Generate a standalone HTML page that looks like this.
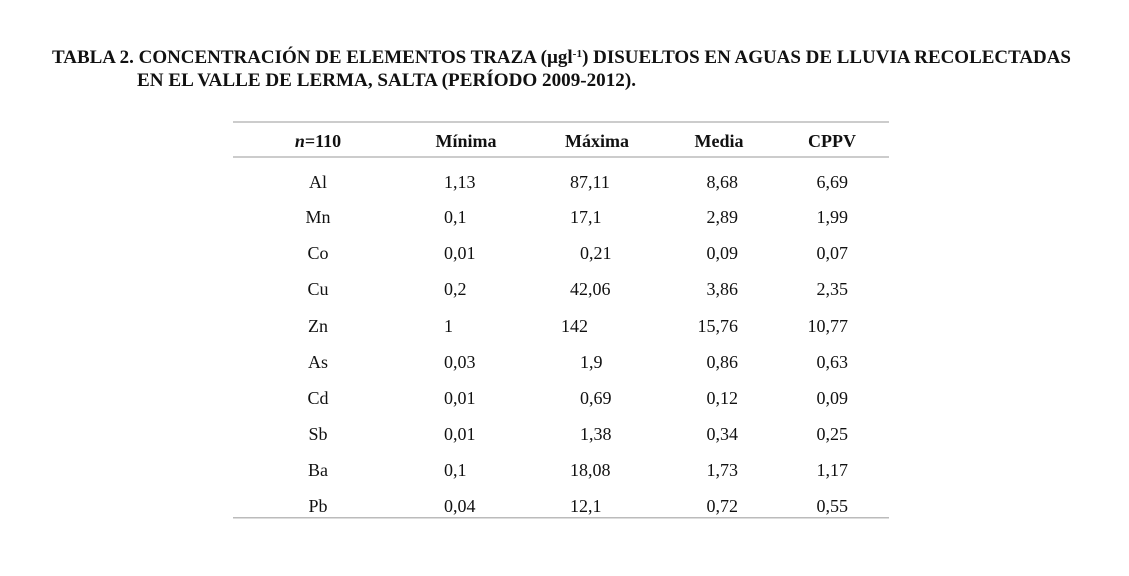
<!DOCTYPE html>
<html><head><meta charset="utf-8"><style>
html,body{margin:0;padding:0;background:#fff;}
svg{display:block;}
text{font-family:"Liberation Serif",serif;fill:#111;}
</style></head><body>
<svg width="1129" height="576" viewBox="0 0 1129 576">
<text x="52" y="63" font-size="18.5" font-weight="bold" textLength="1019" lengthAdjust="spacingAndGlyphs">TABLA 2. CONCENTRACIÓN DE ELEMENTOS TRAZA (µgl<tspan font-size="11" dy="-6">-1</tspan><tspan dy="6">) DISUELTOS EN AGUAS DE LLUVIA RECOLECTADAS</tspan></text>
<text x="137" y="86" font-size="18.5" font-weight="bold" textLength="499" lengthAdjust="spacingAndGlyphs">EN EL VALLE DE LERMA, SALTA (PERÍODO 2009-2012).</text>
<rect x="233" y="121" width="656" height="2" fill="#ccc"/>
<rect x="233" y="156" width="656" height="2" fill="#ccc"/>
<rect x="233" y="517" width="656" height="1.5" fill="#bbb"/>
<g font-size="18" font-weight="bold">
<text x="318" y="147" text-anchor="middle"><tspan font-style="italic">n</tspan>=110</text>
<text x="466" y="147" text-anchor="middle">Mínima</text>
<text x="597" y="147" text-anchor="middle">Máxima</text>
<text x="719" y="147" text-anchor="middle">Media</text>
<text x="832" y="147" text-anchor="middle">CPPV</text>
</g>
<g font-size="18">
<text x="318" y="188" text-anchor="middle">Al</text><text x="444" y="188">1,13</text><text x="570" y="188">87,11</text><text x="738" y="188" text-anchor="end">8,68</text><text x="848" y="188" text-anchor="end">6,69</text>
<text x="318" y="223" text-anchor="middle">Mn</text><text x="444" y="223">0,1</text><text x="570" y="223">17,1</text><text x="738" y="223" text-anchor="end">2,89</text><text x="848" y="223" text-anchor="end">1,99</text>
<text x="318" y="259" text-anchor="middle">Co</text><text x="444" y="259">0,01</text><text x="580" y="259">0,21</text><text x="738" y="259" text-anchor="end">0,09</text><text x="848" y="259" text-anchor="end">0,07</text>
<text x="318" y="295" text-anchor="middle">Cu</text><text x="444" y="295">0,2</text><text x="570" y="295">42,06</text><text x="738" y="295" text-anchor="end">3,86</text><text x="848" y="295" text-anchor="end">2,35</text>
<text x="318" y="332" text-anchor="middle">Zn</text><text x="444" y="332">1</text><text x="561" y="332">142</text><text x="738" y="332" text-anchor="end">15,76</text><text x="848" y="332" text-anchor="end">10,77</text>
<text x="318" y="368" text-anchor="middle">As</text><text x="444" y="368">0,03</text><text x="580" y="368">1,9</text><text x="738" y="368" text-anchor="end">0,86</text><text x="848" y="368" text-anchor="end">0,63</text>
<text x="318" y="404" text-anchor="middle">Cd</text><text x="444" y="404">0,01</text><text x="580" y="404">0,69</text><text x="738" y="404" text-anchor="end">0,12</text><text x="848" y="404" text-anchor="end">0,09</text>
<text x="318" y="440" text-anchor="middle">Sb</text><text x="444" y="440">0,01</text><text x="580" y="440">1,38</text><text x="738" y="440" text-anchor="end">0,34</text><text x="848" y="440" text-anchor="end">0,25</text>
<text x="318" y="476" text-anchor="middle">Ba</text><text x="444" y="476">0,1</text><text x="570" y="476">18,08</text><text x="738" y="476" text-anchor="end">1,73</text><text x="848" y="476" text-anchor="end">1,17</text>
<text x="318" y="512" text-anchor="middle">Pb</text><text x="444" y="512">0,04</text><text x="570" y="512">12,1</text><text x="738" y="512" text-anchor="end">0,72</text><text x="848" y="512" text-anchor="end">0,55</text>
</g>
</svg>
</body></html>
